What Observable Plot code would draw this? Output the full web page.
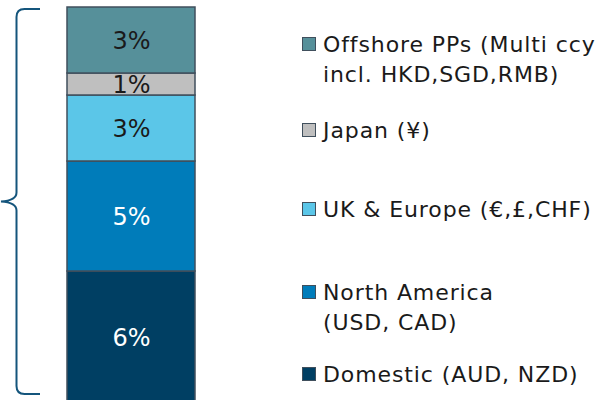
<!DOCTYPE html>
<html>
<head>
<meta charset="utf-8">
<script src="https://cdn.jsdelivr.net/npm/d3@7"></script>
<script src="https://cdn.jsdelivr.net/npm/@observablehq/plot@0.6"></script>
<style>
  html, body { margin: 0; padding: 0; background: #fff; }
  #wrap { position: relative; width: 613px; height: 400px; overflow: hidden; font-family: "DejaVu Sans", Verdana, sans-serif; }
  #wrap svg { position: absolute; left: 0; top: 0; }
  .leg { position: absolute; left: 302px; font-size: 22px; line-height: 30px; letter-spacing: 0.9px; color: #1a1a1a; white-space: nowrap; }
  .leg .sw { position: absolute; left: 0; top: 7px; width: 12px; height: 12px; border: 1px solid #404f5c; }
  .leg .tx { position: absolute; left: 21px; top: 0; }
</style>
</head>
<body>
<div id="wrap"></div>
<script>
// Data (bottom to top of the stack)
const regions = ["Domestic (AUD, NZD)", "North America (USD, CAD)", "UK & Europe (€,£,CHF)", "Japan (¥)", "Offshore PPs (Multi ccy incl. HKD,SGD,RMB)"];
const shares = [6, 5, 3, 1, 3];
const shareLabels = ["6%", "5%", "3%", "1%", "3%"];
const colors = ["#003f63", "#007cba", "#5bc6e8", "#bfbfbf", "#56909a"];
const labelColors = ["#ffffff", "#ffffff", "#1a1a1a", "#1a1a1a", "#1a1a1a"];
// Legend (top to bottom), lines of text
const legendLines = [
  ["Offshore PPs (Multi ccy", "incl. HKD,SGD,RMB)"],
  ["Japan (¥)"],
  ["UK & Europe (€,£,CHF)"],
  ["North America", "(USD, CAD)"],
  ["Domestic (AUD, NZD)"]
];
const legendColors = ["#56909a", "#bfbfbf", "#5bc6e8", "#007cba", "#003f63"];
const legendTops = [30, 116, 195, 278, 360];

const ends = d3.cumsum(shares);
const rows = regions.map((r, i) => ({
  region: r,
  share: shares[i],
  y1: ends[i] - shares[i],
  y2: ends[i],
  mid: ends[i] - shares[i] / 2,
  label: shareLabels[i],
  color: colors[i],
  textColor: labelColors[i],
  col: "total"
}));
const total = ends[ends.length - 1];

function brace(index, scales) {
  const top = scales.y(total) + 2;
  const bot = scales.y(0) - 9;
  const mid = (top + bot) / 2;
  const xl = 16.5, xe = 40, tip = 1;
  const d = `M${xe},${top} L${xl + 8},${top} Q${xl},${top} ${xl},${top + 8}` +
    ` L${xl},${mid - 9} Q${xl},${mid - 1} ${tip},${mid} Q${xl},${mid + 1} ${xl},${mid + 9}` +
    ` L${xl},${bot - 8} Q${xl},${bot} ${xl + 8},${bot} L${xe},${bot}`;
  const p = document.createElementNS("http://www.w3.org/2000/svg", "path");
  p.setAttribute("d", d);
  p.setAttribute("fill", "none");
  p.setAttribute("stroke", "#14557c");
  p.setAttribute("stroke-width", "2");
  return p;
}

const chart = Plot.plot({
  width: 613,
  height: 400,
  margin: 0,
  style: { fontFamily: "DejaVu Sans, Verdana, sans-serif", background: "transparent" },
  x: { domain: ["total"], range: [67, 195], padding: 0, axis: null },
  y: { domain: [0, total], range: [403, 7], axis: null },
  marks: [
    Plot.barY(rows, { x: "col", y1: "y1", y2: "y2", fill: "color", stroke: "#404f5c", strokeWidth: 1.5 }),
    Plot.text(rows, { x: "col", y: "mid", text: "label", fill: "textColor", fontSize: 24, dy: 1 }),
    brace
  ]
});

const wrap = document.getElementById("wrap");
wrap.appendChild(chart);

legendLines.forEach((lines, i) => {
  const item = document.createElement("div");
  item.className = "leg";
  item.style.top = legendTops[i] + "px";
  const sw = document.createElement("div");
  sw.className = "sw";
  sw.style.background = legendColors[i];
  const tx = document.createElement("div");
  tx.className = "tx";
  tx.innerHTML = lines.map(s => s.replace(/&/g, "&amp;")).join("<br>");
  item.appendChild(sw);
  item.appendChild(tx);
  wrap.appendChild(item);
});
</script>
</body>
</html>
